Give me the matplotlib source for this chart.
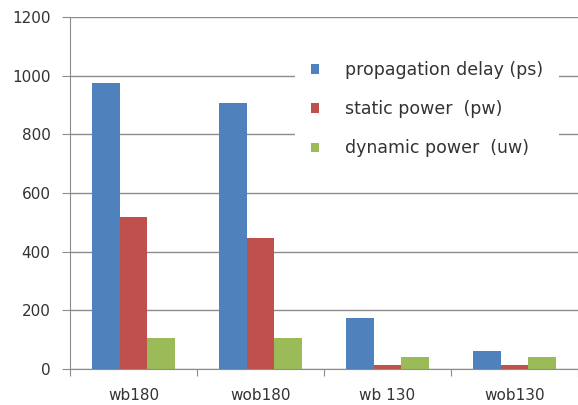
import matplotlib.pyplot as plt
import numpy as np
from matplotlib.patches import Patch

categories = ["wb180", "wob180", "wb 130", "wob130"]
series_names = ["propagation delay (ps)", "static power  (pw)", "dynamic power  (uw)"]
prop_delay = [974, 908, 173, 62]
static_power = [517, 448, 12, 12]
dynamic_power = [107, 107, 42, 42]

colors = ["#4F81BD", "#C0504D", "#9BBB59"]
BAR_WIDTH = 0.218

plt.rcParams["font.family"] = ["DejaVu Sans"]

fig = plt.figure(figsize=(5.78, 4.05), dpi=100)
ax = fig.add_axes([70 / 578, 36 / 405, 508 / 578, 352 / 405])

x = np.arange(len(categories))
for i, (vals, c) in enumerate(zip([prop_delay, static_power, dynamic_power], colors)):
    ax.bar(x + (i - 1) * BAR_WIDTH, vals, width=BAR_WIDTH, color=c, zorder=2)

ax.set_xlim(-0.5, len(categories) - 0.5)
ax.set_ylim(0, 1200)
ax.set_yticks(range(0, 1201, 200))
ax.yaxis.grid(True, color="#8c8c8c", linewidth=1, zorder=0)

for s in ["top", "right"]:
    ax.spines[s].set_visible(False)
ax.spines["left"].set_color("#8c8c8c")
ax.spines["bottom"].set_color("#8c8c8c")

# category boundaries get the tick marks, centres get the labels
ax.set_xticks(np.arange(-0.5, len(categories)), minor=False)
ax.set_xticklabels([])
ax.set_xticks(x, minor=True)
ax.set_xticklabels(categories, minor=True)
ax.tick_params(axis="x", which="major", length=5, color="#8c8c8c")
ax.tick_params(axis="x", which="minor", length=0, pad=14, labelsize=11, labelcolor="#333333")
ax.tick_params(axis="y", length=6, color="#8c8c8c", labelsize=11, labelcolor="#333333", pad=8)

handles = [Patch(facecolor=c, edgecolor="none") for c in colors]
leg = ax.legend(handles, series_names, loc="upper left", bbox_to_anchor=(0.443, 0.92),
                frameon=True, fancybox=False, edgecolor="none", facecolor="white",
                framealpha=1, fontsize=12.5, handlelength=0.46, handleheight=0.46,
                handletextpad=1.5, labelspacing=1.22, borderpad=0.92, borderaxespad=0)
for t in leg.get_texts():
    t.set_color("#333333")
leg.set_zorder(3)

fig.savefig("out.png", dpi=100)
